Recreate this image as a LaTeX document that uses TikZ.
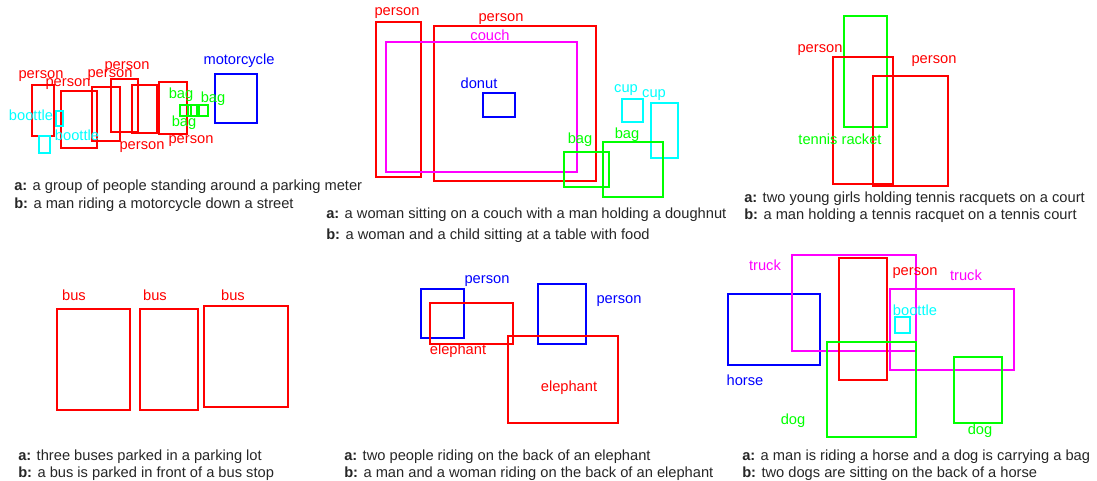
\documentclass[tikz,border=0pt]{standalone}
\usepackage{fontspec}
\setmainfont{Liberation Sans}
\definecolor{boxcyan}{RGB}{0,255,255}
\definecolor{boxmag}{RGB}{255,0,255}
\definecolor{boxgreen}{RGB}{0,255,0}
\definecolor{boxred}{RGB}{255,0,0}
\definecolor{boxblue}{RGB}{0,0,255}
\begin{document}
\begin{tikzpicture}[x=0.75pt,y=-0.75pt,
		box/.style={line width=1.5pt},
		lbl/.style={inner sep=0pt,font=\fontsize{11}{13}\selectfont},
		captxt/.style={inner sep=0pt,anchor=west,text=black!85,font=\fontsize{11}{13}\selectfont}]
	\useasboundingbox (0,0) rectangle (1097,481);
	% parking meter
	\draw [box,boxred] (32,85) rectangle (54,136) (61,91) rectangle (97,148) (92,87) rectangle (120,141) (111,79) rectangle (138,132) (132,85) rectangle (157,133) (159,82) rectangle (187,134);
	\draw [box,boxgreen] (180,105) rectangle (191,116) (188,105) rectangle (199,116) (197,105) rectangle (208,116);
	\draw [box,boxcyan] (56,111) rectangle (63,126) (39,136) rectangle (50,153);
	\draw [box,boxblue] (215,74) rectangle (257,123);
	\node [lbl,boxred] (pa) at (41,76) {person};
	\node [lbl,boxred] (pb) at (68,84) {person};
	\node [lbl,boxred] (pc) at (110,75) {person};
	\node [lbl,boxred] (pd) at (127,67) {person};
	\node [lbl,boxred] (pe) at (142,147) {person};
	\node [lbl,boxred] (pf) at (191,141) {person};
	\node [lbl,boxgreen] (ba) at (181,95) {bag};
	\node [lbl,boxgreen] (bb) at (213,99) {bag};
	\node [lbl,boxgreen] (bc) at (184,123) {bag};
	\node [lbl,boxblue] (mc) at (239,61) {motorcycle};
	\node [lbl,boxcyan] (bta) at (31,115) {boottle};
	\node [lbl,boxcyan] (btb) at (77,135) {boottle};
	\node [captxt] (capa1) at (14,187) {\textbf{a:} a group of people standing around a parking meter};
	\node [captxt] (capb1) at (14,205) {\textbf{b:} a man riding a motorcycle down a street};
	% couch
	\draw [box,boxred] (376,22) rectangle (421,177) (434,26) rectangle (596,181);
	\draw [box,boxmag] (386,42) rectangle (577,172);
	\draw [box,boxblue] (483,93) rectangle (515,117);
	\draw [box,boxcyan] (622,99) rectangle (643,122) (651,103) rectangle (678,158);
	\draw [box,boxgreen] (564,152) rectangle (609,187) (603,142) rectangle (663,197);
	\node [lbl,boxred] (pg) at (397,13) {person};
	\node [lbl,boxred] (ph) at (501,19) {person};
	\node [lbl,boxmag] (co) at (490,35) {couch};
	\node [lbl,boxblue] (dn) at (479,83) {donut};
	\node [lbl,boxcyan] (cua) at (626,90) {cup};
	\node [lbl,boxcyan] (cub) at (654,95) {cup};
	\node [lbl,boxgreen] (bd) at (580,140) {bag};
	\node [lbl,boxgreen] (be) at (627,135) {bag};
	\node [captxt] (capa2) at (326,215) {\textbf{a:} a woman sitting on a couch with a man holding a doughnut};
	\node [captxt] (capb2) at (326,236) {\textbf{b:} a woman and a child sitting at a table with food};
	% tennis
	\draw [box,boxgreen] (844,16) rectangle (887,127);
	\draw [box,boxred] (833,57) rectangle (893,184) (873,76) rectangle (948,186);
	\node [lbl,boxred] (pi) at (820,50) {person};
	\node [lbl,boxred] (pj) at (934,61) {person};
	\node [lbl,boxgreen] (tr) at (840,139) {tennis racket};
	\node [captxt] (capa3) at (744,199) {\textbf{a:} two young girls holding tennis racquets on a court};
	\node [captxt] (capb3) at (744,216) {\textbf{b:} a man holding a tennis racquet on a tennis court};
	% buses
	\draw [box,boxred] (57,309) rectangle (130,410) (140,309) rectangle (198,410) (204,306) rectangle (288,407);
	\node [lbl,boxred] (bua) at (74,295) {bus};
	\node [lbl,boxred] (bub) at (155,295) {bus};
	\node [lbl,boxred] (buc) at (233,295) {bus};
	\node [captxt] (capa4) at (18,457) {\textbf{a:} three buses parked in a parking lot};
	\node [captxt] (capb4) at (18,474) {\textbf{b:} a bus is parked in front of a bus stop};
	% elephants
	\draw [box,boxblue] (421,289) rectangle (464,338) (538,284) rectangle (586,344);
	\draw [box,boxred] (430,303) rectangle (513,344) (508,336) rectangle (618,423);
	\node [lbl,boxblue] (pk) at (487,281) {person};
	\node [lbl,boxblue] (pl) at (619,301) {person};
	\node [lbl,boxred] (ea) at (458,351) {elephant};
	\node [lbl,boxred] (eb) at (569,388) {elephant};
	\node [captxt] (capa5) at (344,457) {\textbf{a:} two people riding on the back of an elephant};
	\node [captxt] (capb5) at (344,474) {\textbf{b:} a man and a woman riding on the back of an elephant};
	% horse
	\draw [box,boxblue] (728,294) rectangle (820,365);
	\draw [box,boxmag] (792,255) rectangle (916,351);
	\draw [box,boxred] (839,258) rectangle (887,380);
	\draw [box,boxmag] (890,289) rectangle (1014,370);
	\draw [box,boxcyan] (895,317) rectangle (910,333);
	\draw [box,boxgreen] (827,342) rectangle (916,437) (954,357) rectangle (1002,423);
	\node [lbl,boxmag] (tka) at (765,265) {truck};
	\node [lbl,boxred] (pm) at (915,273) {person};
	\node [lbl,boxmag] (tkb) at (966,275) {truck};
	\node [lbl,boxcyan] (btc) at (915,310) {boottle};
	\node [lbl,boxblue] (hs) at (745,380) {horse};
	\node [lbl,boxgreen] (dga) at (793,421) {dog};
	\node [lbl,boxgreen] (dgb) at (980,431) {dog};
	\node [captxt] (capa6) at (742,457) {\textbf{a:} a man is riding a horse and a dog is carrying a bag};
	\node [captxt] (capb6) at (742,474) {\textbf{b:} two dogs are sitting on the back of a horse};
\end{tikzpicture}
\end{document}
